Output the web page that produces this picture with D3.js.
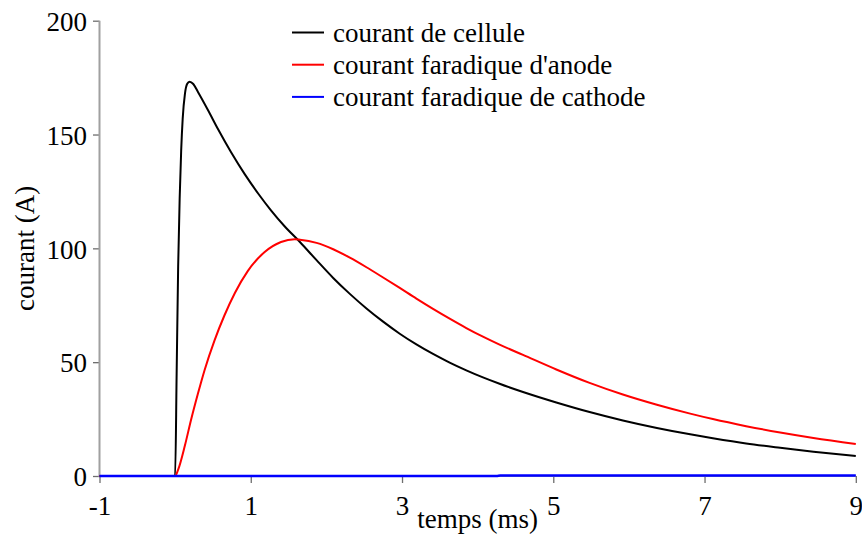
<!DOCTYPE html>
<html>
<head>
<meta charset="utf-8">
<script src="https://cdn.jsdelivr.net/npm/d3@7/dist/d3.min.js"></script>
<style>
  html, body { margin: 0; padding: 0; background: #fff; }
  svg { display: block; }
  text { font-family: "Liberation Serif", "Times New Roman", serif; fill: #000; }
</style>
</head>
<body>
<svg id="chart" width="862" height="544"></svg>
<script>
// Time (ms) and current (A) for each series
const cellTime = [-1, 0, 0.02, 0.04, 0.06, 0.08, 0.10, 0.13, 0.16, 0.19, 0.24, 0.30, 0.43, 0.57, 0.74, 0.92, 1.10, 1.27, 1.45, 1.65, 1.87, 2.09, 2.31, 2.53, 2.75, 2.97, 3.19, 3.41, 3.63, 3.85, 4.07, 4.29, 4.60, 5.04, 5.48, 5.92, 6.37, 6.81, 7.11, 7.55, 8.00, 8.44, 9.00];
const cellCurrent = [0, 0, 45, 92, 122, 143, 157, 168, 172.3, 173.2, 172.2, 168.8, 161, 152.2, 142.2, 132.6, 124, 116.6, 109.6, 102.8, 94.8, 87, 80, 73.6, 67.8, 62.5, 57.8, 53.6, 49.8, 46.4, 43.3, 40.5, 36.9, 32.3, 28.1, 24.4, 21.1, 18.3, 16.6, 14.3, 12.4, 10.7, 8.8];

const anodeTime = [-1, 0, 0.04, 0.13, 0.21, 0.30, 0.39, 0.52, 0.65, 0.79, 0.96, 1.18, 1.40, 1.58, 1.65, 1.87, 2.09, 2.31, 2.53, 2.75, 2.97, 3.19, 3.41, 3.63, 3.85, 4.07, 4.29, 4.60, 5.04, 5.48, 5.92, 6.37, 6.81, 7.11, 7.55, 8.00, 8.44, 9.00];
const anodeCurrent = [0, 0, 2.8, 13.5, 24.6, 36, 46.6, 59.5, 70.4, 80.4, 90, 98.3, 102.8, 104, 103.8, 102.4, 99.6, 95.9, 91.7, 87.2, 82.6, 77.9, 73.4, 69.1, 65, 61.2, 57.7, 53.2, 46.8, 40.9, 35.8, 31.3, 27.4, 25, 21.9, 19.1, 16.7, 14.1];

const cathodeTime = [-1, 4.25, 4.30, 9.00];
const cathodeCurrent = [0, 0, 0.25, 0.25];

const xMajorTicks = [-1, 1, 3, 5, 7, 9];
const xMinorTicks = [0, 2, 4, 6, 8];
const yMajorTicks = [0, 50, 100, 150, 200];
const yMinorTicks = [10, 20, 30, 40, 60, 70, 80, 90, 110, 120, 130, 140, 160, 170, 180, 190];

const seriesNames = ["courant de cellule", "courant faradique d'anode", "courant faradique de cathode"];
const seriesColors = ["#000000", "#ff0000", "#0000ff"];

const svg = d3.select("#chart");
const x = d3.scaleLinear().domain([-1, 9]).range([99.5, 855.8]);
const y = d3.scaleLinear().domain([0, 200]).range([476, 20.7]);

const axisColor = "#a0a0a0";
const tickColor = "#6e6e6e";
const fontSize = 27;
const numFmt = d => String(d); // plain hyphen for negatives

// y axis
const gy = svg.append("g").attr("transform", `translate(${x(-1)},0)`);
gy.call(d3.axisLeft(y).tickValues(yMinorTicks).tickSize(3).tickFormat(""))
  .call(g => g.select(".domain").remove());
gy.call(d3.axisLeft(y).tickValues(yMajorTicks).tickSize(6.5).tickPadding(6).tickFormat(numFmt))
  .call(g => g.select(".domain").remove());
gy.attr("font-family", "Liberation Serif").attr("font-size", fontSize);
gy.selectAll("line").attr("stroke", tickColor).attr("stroke-width", 1.3);
gy.selectAll("text").attr("dy", "0.36em");
gy.append("line").attr("x1", 0).attr("x2", 0).attr("y1", y(0) + 1).attr("y2", y(200))
  .attr("stroke", axisColor).attr("stroke-width", 2);

// x axis
const gx = svg.append("g").attr("transform", `translate(0,${y(0)})`);
gx.call(d3.axisBottom(x).tickValues(xMinorTicks).tickSize(3.5).tickFormat(""))
  .call(g => g.select(".domain").remove());
gx.call(d3.axisBottom(x).tickValues(xMajorTicks).tickSize(7).tickPadding(13).tickFormat(numFmt))
  .call(g => g.select(".domain").remove());
gx.attr("font-family", "Liberation Serif").attr("font-size", fontSize);
gx.selectAll("line").attr("stroke", tickColor).attr("stroke-width", 1.3);
gx.append("line").attr("x1", x(-1)).attr("x2", x(9)).attr("y1", 0).attr("y2", 0)
  .attr("stroke", axisColor).attr("stroke-width", 2);

// axis titles
svg.append("text").attr("x", (x(-1) + x(9)) / 2).attr("y", 528)
  .attr("text-anchor", "middle").attr("font-size", fontSize).text("temps (ms)");
svg.append("text").attr("transform", `translate(34,${(y(0) + y(200)) / 2}) rotate(-90)`)
  .attr("text-anchor", "middle").attr("font-size", fontSize).text("courant (A)");

// curves
const line = d3.line().x(d => x(d[0])).y(d => y(d[1])).curve(d3.curveMonotoneX);
const series = [
  d3.zip(cellTime, cellCurrent),
  d3.zip(anodeTime, anodeCurrent),
  d3.zip(cathodeTime, cathodeCurrent)
];
const widths = [2, 2, 2.6];
series.forEach((pts, i) => {
  svg.append("path").datum(pts).attr("d", line)
    .attr("fill", "none").attr("stroke", seriesColors[i])
    .attr("stroke-width", widths[i]).attr("stroke-linejoin", "round");
});

// legend
const legend = svg.append("g");
seriesNames.forEach((name, i) => {
  const ly = 32.5 + i * 32.2;
  legend.append("line").attr("x1", 292).attr("x2", 324).attr("y1", ly).attr("y2", ly)
    .attr("stroke", seriesColors[i]).attr("stroke-width", 2);
  legend.append("text").attr("x", 333).attr("y", ly + 9.5)
    .attr("font-size", fontSize).text(name);
});
</script>
</body>
</html>
